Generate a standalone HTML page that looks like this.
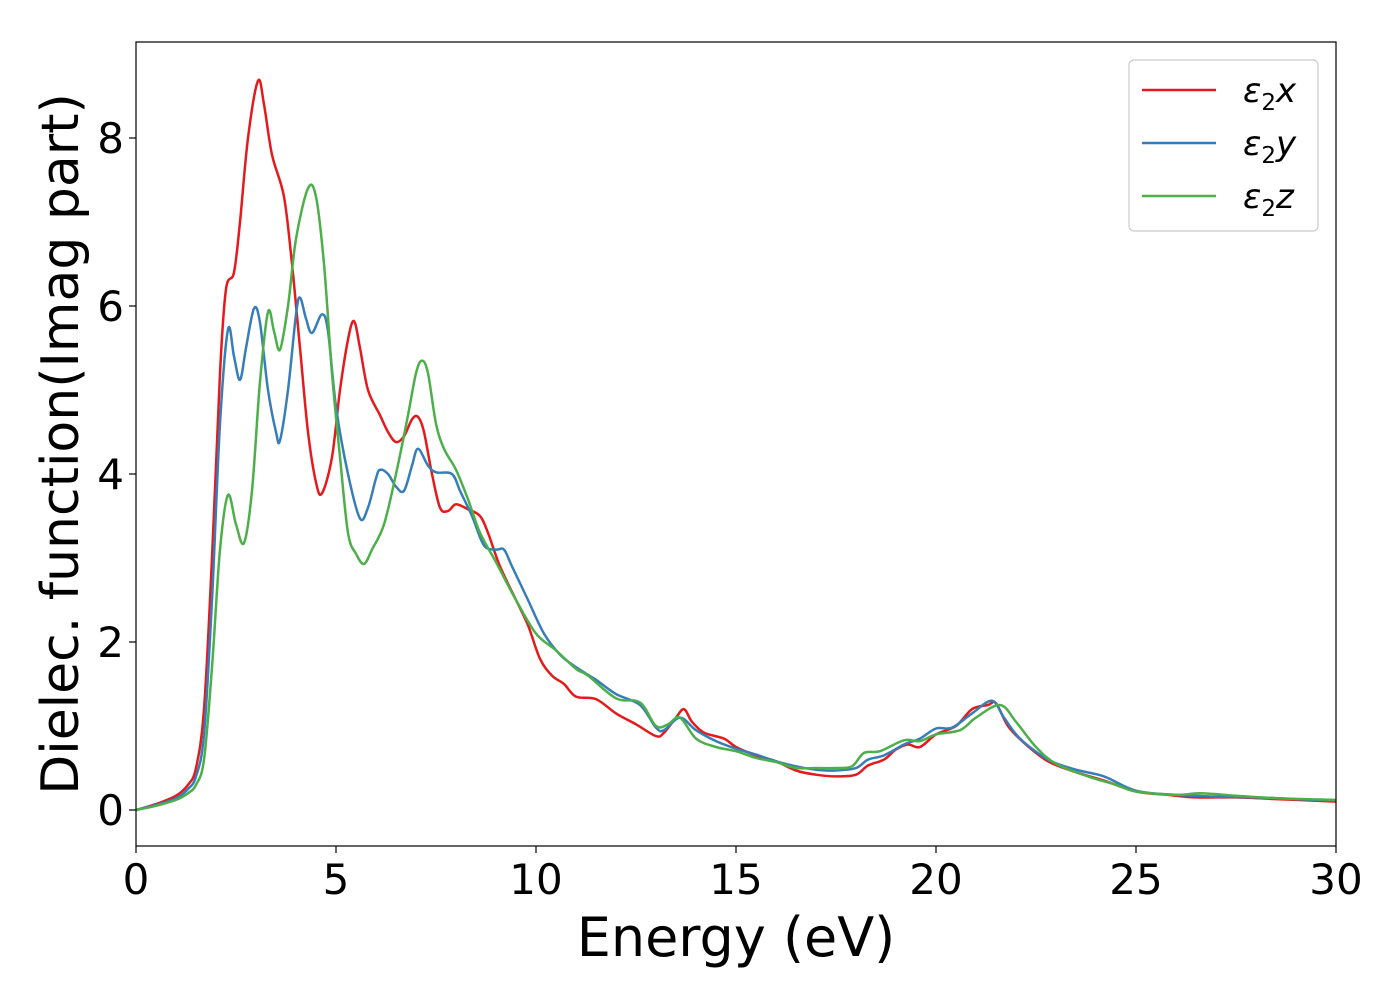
<!DOCTYPE html>
<html><head><meta charset="utf-8"><style>
body{margin:0;background:#fff;}
svg{display:block;font-family:"DejaVu Sans","Liberation Sans",sans-serif;}
</style></head><body>
<svg id="chart" width="1400" height="1000" viewBox="0 0 1400 1000" xmlns="http://www.w3.org/2000/svg">
<rect x="0" y="0" width="1400" height="1000" fill="#fff"/>
<g id="series"></g>
<rect x="136" y="42" width="1200" height="804" fill="none" stroke="#000" stroke-width="1.2"/>
<g id="xticks"></g>
<g id="yticks"></g>
<text x="736" y="956" font-size="54" text-anchor="middle">Energy (eV)</text>
<text transform="translate(78,444) rotate(-90)" font-size="52" text-anchor="middle">Dielec. function(Imag part)</text>
<g>
<rect x="1129" y="60" width="189" height="171" rx="5" fill="#fff" stroke="#ccc" stroke-width="1.2"/>
<line x1="1142" y1="90" x2="1216" y2="90" stroke="#e41a1c" stroke-width="2.5"/>
<text x="1243" y="102" font-size="34" font-style="italic">ε<tspan font-size="23" dy="8" font-style="normal">2</tspan><tspan dy="-8">x</tspan></text>
<line x1="1142" y1="143" x2="1216" y2="143" stroke="#377eb8" stroke-width="2.5"/>
<text x="1243" y="155" font-size="34" font-style="italic">ε<tspan font-size="23" dy="8" font-style="normal">2</tspan><tspan dy="-8">y</tspan></text>
<line x1="1142" y1="196" x2="1216" y2="196" stroke="#4daf4a" stroke-width="2.5"/>
<text x="1243" y="208" font-size="34" font-style="italic">ε<tspan font-size="23" dy="8" font-style="normal">2</tspan><tspan dy="-8">z</tspan></text>
</g>
</svg>
<script>
const xTicks=[0,5,10,15,20,25,30];
const yTicks=[0,2,4,6,8];
const energyX=[0,0.5,1,1.3,1.5,1.7,1.9,2.1,2.25,2.45,2.6,2.8,3.05,3.2,3.4,3.7,3.9,4.1,4.3,4.5,4.65,4.9,5.1,5.3,5.45,5.6,5.8,6.1,6.3,6.5,6.7,6.9,7.05,7.2,7.4,7.6,7.8,8.0,8.3,8.6,8.8,9.1,9.5,9.8,10.1,10.4,10.7,11,11.5,12,12.5,13,13.2,13.5,13.7,13.9,14.2,14.7,15,15.5,16,16.5,17,17.5,18,18.3,18.7,19,19.3,19.6,20,20.5,20.9,21.3,21.5,21.8,22.2,22.8,23.5,24.2,25,25.8,26.5,27.5,28.5,29.5,30];
const epsX=[0,0.07,0.17,0.3,0.5,1.2,3,5.2,6.2,6.4,7,8,8.68,8.4,7.8,7.3,6.5,5.5,4.5,3.9,3.77,4.2,5,5.6,5.82,5.5,5,4.7,4.5,4.38,4.45,4.65,4.68,4.5,4,3.6,3.56,3.64,3.58,3.5,3.3,2.9,2.5,2.2,1.8,1.6,1.5,1.35,1.32,1.15,1.02,0.88,0.92,1.1,1.2,1.05,0.92,0.85,0.75,0.65,0.58,0.47,0.42,0.4,0.42,0.53,0.6,0.72,0.78,0.75,0.9,1,1.2,1.25,1.27,1.0,0.8,0.58,0.45,0.35,0.22,0.18,0.15,0.15,0.13,0.11,0.1];
const energyY=[0,0.5,1,1.3,1.5,1.7,1.9,2.1,2.3,2.45,2.6,2.75,2.95,3.1,3.3,3.5,3.6,3.8,4.0,4.1,4.25,4.4,4.65,4.8,5.0,5.3,5.6,5.8,6.0,6.1,6.3,6.5,6.7,6.9,7.05,7.3,7.5,7.9,8.1,8.4,8.7,9.0,9.2,9.4,9.8,10.2,10.6,11,11.5,12,12.6,13,13.2,13.6,14,14.5,15,15.5,16,16.5,17,17.5,18,18.3,18.7,19.2,19.6,20,20.4,20.9,21.4,21.7,22.1,22.8,23.5,24.2,25,26,27,28,29,30];
const epsY=[0,0.06,0.14,0.25,0.4,0.9,2.5,4.6,5.72,5.4,5.12,5.5,5.97,5.8,5.0,4.5,4.4,5,5.9,6.1,5.85,5.68,5.9,5.7,4.8,4.0,3.47,3.6,3.95,4.05,4.0,3.85,3.8,4.1,4.3,4.1,4.02,4,3.8,3.5,3.15,3.1,3.1,2.9,2.5,2.1,1.85,1.7,1.55,1.38,1.25,0.98,0.95,1.1,0.95,0.82,0.73,0.66,0.58,0.52,0.48,0.47,0.5,0.6,0.65,0.78,0.85,0.97,0.98,1.15,1.3,1.1,0.85,0.6,0.48,0.4,0.23,0.18,0.16,0.15,0.13,0.11];
const energyZ=[0,0.5,1,1.3,1.5,1.7,1.9,2.1,2.3,2.5,2.7,2.9,3.1,3.3,3.45,3.6,3.8,4.0,4.3,4.5,4.7,4.9,5.1,5.3,5.5,5.7,5.9,6.2,6.5,6.8,7.0,7.15,7.3,7.5,7.7,8.0,8.3,8.6,9,9.5,10,10.5,11,11.3,12,12.6,13,13.3,13.6,14,14.5,15,15.5,16,16.5,17,17.5,17.9,18.2,18.6,19.2,19.6,20,20.6,21,21.6,22,22.5,23,23.8,24.5,25,26,26.6,27.5,28.5,30];
const epsZ=[0,0.05,0.12,0.2,0.3,0.6,1.7,3.1,3.75,3.4,3.18,3.8,5.1,5.93,5.7,5.48,6.0,6.8,7.4,7.3,6.5,5.2,4.2,3.3,3.05,2.93,3.1,3.4,4.0,4.7,5.2,5.35,5.2,4.6,4.3,4.05,3.7,3.3,2.95,2.5,2.1,1.9,1.68,1.6,1.33,1.28,1.0,1.02,1.1,0.85,0.75,0.7,0.62,0.57,0.5,0.5,0.5,0.52,0.68,0.7,0.83,0.82,0.9,0.95,1.1,1.25,1.05,0.75,0.55,0.4,0.3,0.22,0.18,0.2,0.17,0.14,0.12];

const NS='http://www.w3.org/2000/svg';
const xs=v=>136+v*40;
const ys=v=>810-v*84;
function smoothPath(xa,ya){
  const p=xa.map((x,i)=>[xs(x),ys(ya[i])]);
  let d='M'+p[0][0].toFixed(1)+','+p[0][1].toFixed(1);
  for(let i=0;i<p.length-1;i++){
    const p0=p[Math.max(0,i-1)],p1=p[i],p2=p[i+1],p3=p[Math.min(p.length-1,i+2)];
    const c1=[p1[0]+(p2[0]-p0[0])/6,p1[1]+(p2[1]-p0[1])/6];
    const c2=[p2[0]-(p3[0]-p1[0])/6,p2[1]-(p3[1]-p1[1])/6];
    d+=' C'+c1[0].toFixed(1)+','+c1[1].toFixed(1)+' '+c2[0].toFixed(1)+','+c2[1].toFixed(1)+' '+p2[0].toFixed(1)+','+p2[1].toFixed(1);
  }
  return d;
}
const sg=document.getElementById('series');
function addSeries(xa,ya,color,name){
  const el=document.createElementNS(NS,'path');
  el.setAttribute('d',smoothPath(xa,ya));
  el.setAttribute('fill','none');
  el.setAttribute('stroke',color);
  el.setAttribute('stroke-width','2.5');
  
  
  sg.appendChild(el);
}
addSeries(energyX,epsX,'#e41a1c','series-eps2-x');
addSeries(energyY,epsY,'#377eb8','series-eps2-y');
addSeries(energyZ,epsZ,'#4daf4a','series-eps2-z');

const xg=document.getElementById('xticks');
xTicks.forEach(t=>{
  const l=document.createElementNS(NS,'line');
  l.setAttribute('x1',xs(t));l.setAttribute('x2',xs(t));
  l.setAttribute('y1',846);l.setAttribute('y2',853);
  l.setAttribute('stroke','#000');l.setAttribute('stroke-width','1.2');
  
  
  xg.appendChild(l);
  const tx=document.createElementNS(NS,'text');
  tx.setAttribute('x',xs(t));tx.setAttribute('y',894);
  tx.setAttribute('font-size','42');tx.setAttribute('text-anchor','middle');
  tx.textContent=t;
  
  
  xg.appendChild(tx);
});
const yg=document.getElementById('yticks');
yTicks.forEach(t=>{
  const l=document.createElementNS(NS,'line');
  l.setAttribute('x1',129);l.setAttribute('x2',136);
  l.setAttribute('y1',ys(t));l.setAttribute('y2',ys(t));
  l.setAttribute('stroke','#000');l.setAttribute('stroke-width','1.2');
  
  
  yg.appendChild(l);
  const tx=document.createElementNS(NS,'text');
  tx.setAttribute('x',124);tx.setAttribute('y',ys(t)+15);
  tx.setAttribute('font-size','42');tx.setAttribute('text-anchor','end');
  tx.textContent=t;
  
  
  yg.appendChild(tx);
});
</script>
</body></html>
